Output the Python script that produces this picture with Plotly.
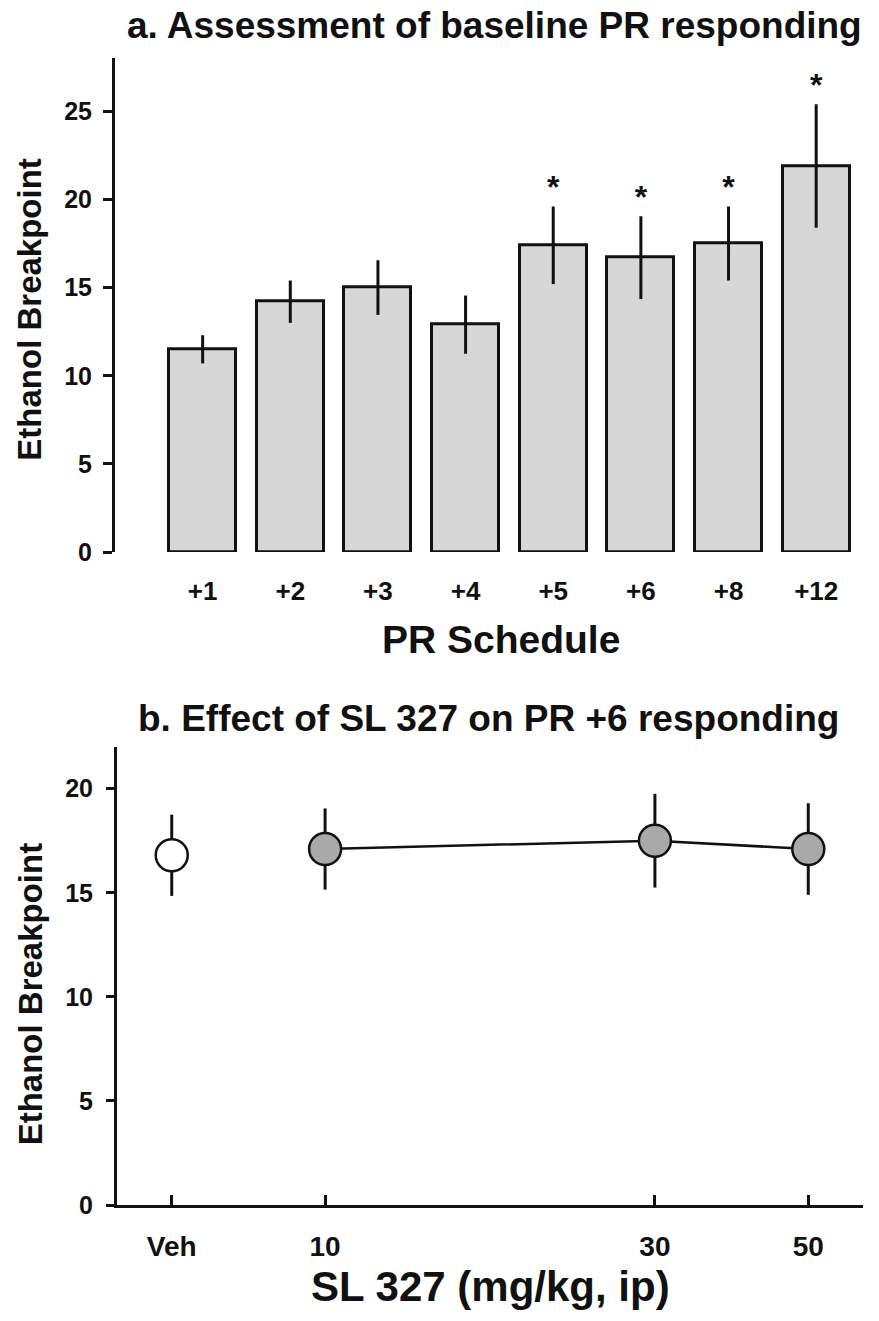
import plotly.graph_objects as go

# ---------------- data ----------------
# Panel a: baseline PR responding
schedules = ["+1", "+2", "+3", "+4", "+5", "+6", "+8", "+12"]
breakpoint_mean = [11.5, 14.2, 15.0, 12.9, 17.4, 16.7, 17.5, 21.9]
breakpoint_sem = [0.8, 1.2, 1.55, 1.65, 2.2, 2.35, 2.1, 3.5]
significant = [False, False, False, False, True, True, True, True]

# Panel b: SL 327 on PR +6
veh_label = ["Veh"]
veh_dose = [6]          # plotting position of vehicle on the dose axis
veh_mean = [16.8]
veh_sem = [1.95]
sl_doses = [10, 30, 50]
sl_mean = [17.1, 17.5, 17.1]
sl_sem = [1.95, 2.25, 2.2]
b_tickvals = veh_dose + sl_doses
b_ticktext = veh_label + [str(d) for d in sl_doses]

W, H = 879, 1321
FONT = "Liberation Sans, Arial, Helvetica, sans-serif"

fig = go.Figure()

# ---- panel a bars ----
fig.add_trace(go.Bar(
    x=schedules, y=breakpoint_mean, width=0.765,
    marker=dict(color="#d7d7d7", line=dict(color="#111111", width=3)),
    error_y=dict(type="data", array=breakpoint_sem, visible=True,
                 color="#111111", thickness=3, width=0),
    xaxis="x", yaxis="y", showlegend=False, hoverinfo="skip"))

star_x = [s for s, f in zip(schedules, significant) if f]
star_y = [m + e for m, e, f in zip(breakpoint_mean, breakpoint_sem, significant) if f]
fig.add_trace(go.Scatter(
    x=star_x, y=star_y, mode="text", text=["*"] * len(star_x),
    textposition="top center",
    textfont=dict(family=FONT, size=32, color="#111111", weight="bold"),
    xaxis="x", yaxis="y", showlegend=False, hoverinfo="skip", cliponaxis=False))

# ---- panel b ----
fig.add_trace(go.Scatter(
    x=sl_doses, y=sl_mean, mode="lines+markers",
    line=dict(color="#111111", width=2.5),
    marker=dict(size=32, color="#a9a9a9", line=dict(color="#111111", width=2.5)),
    error_y=dict(type="data", array=sl_sem, visible=True,
                 color="#111111", thickness=3, width=0),
    xaxis="x2", yaxis="y2", showlegend=False, hoverinfo="skip", cliponaxis=False))
fig.add_trace(go.Scatter(
    x=veh_dose, y=veh_mean, mode="markers",
    marker=dict(size=32, color="#ffffff", line=dict(color="#111111", width=2.5)),
    error_y=dict(type="data", array=veh_sem, visible=True,
                 color="#111111", thickness=3, width=0),
    xaxis="x2", yaxis="y2", showlegend=False, hoverinfo="skip", cliponaxis=False))

def px_x(p):
    return p / W

def px_y(p):
    return 1 - p / H

tickfont_y = dict(family=FONT, size=25, color="#111111", weight="bold")
tickfont_xa = dict(family=FONT, size=26, color="#111111", weight="bold")
tickfont_xb = dict(family=FONT, size=28, color="#111111", weight="bold")

fig.update_layout(
    width=W, height=H,
    margin=dict(l=0, r=0, t=0, b=0),
    paper_bgcolor="white", plot_bgcolor="white",
    font=dict(family=FONT, color="#111111"),
    bargap=0,
    xaxis=dict(domain=[px_x(115), px_x(860)], anchor="y",
               type="category", range=[-1.0, 7.5],
               showline=False, showgrid=False, zeroline=False,
               ticks="outside", ticklen=16, tickcolor="rgba(0,0,0,0)",
               tickfont=tickfont_xa, fixedrange=True),
    yaxis=dict(domain=[px_y(558), px_y(59)], anchor="x",
               range=[0, 28], tickvals=[0, 5, 10, 15, 20, 25],
               showline=True, linecolor="#111111", linewidth=3,
               ticks="outside", ticklen=9, tickwidth=3, tickcolor="#111111",
               showgrid=False, zeroline=False, tickfont=tickfont_y,
               ticklabelstandoff=6, fixedrange=True),
    xaxis2=dict(domain=[px_x(117), px_x(863)], anchor="y2",
                type="log", range=[0.69897, 1.77815],
                tickvals=b_tickvals, ticktext=b_ticktext,
                showline=True, linecolor="#111111", linewidth=3,
                ticks="inside", ticklen=10, tickwidth=3, tickcolor="#111111",
                showgrid=False, zeroline=False, tickfont=tickfont_xb,
                ticklabelstandoff=14, fixedrange=True),
    yaxis2=dict(domain=[px_y(1218), px_y(755)], anchor="x2",
                range=[0, 22], tickvals=[0, 5, 10, 15, 20],
                showline=True, linecolor="#111111", linewidth=3,
                ticks="outside", ticklen=8, tickwidth=3, tickcolor="#111111",
                showgrid=False, zeroline=False, tickfont=tickfont_y,
                ticklabelstandoff=8, fixedrange=True),
)

def ann(text, x, y, size, angle=0):
    fig.add_annotation(text=text, xref="paper", yref="paper",
                       x=px_x(x), y=px_y(y), xanchor="center", yanchor="middle",
                       showarrow=False, textangle=angle,
                       font=dict(family=FONT, size=size, color="#111111", weight="bold"))

ann("a. Assessment of baseline PR responding", 494, 26, 37)
ann("PR Schedule", 501, 646, 39)
ann("Ethanol Breakpoint", 30, 313, 33, angle=-90)
ann("b. Effect of SL 327 on PR +6 responding", 488, 726, 37)
ann("SL 327 (mg/kg, ip)", 491, 1300, 42)
ann("Ethanol Breakpoint", 30, 1005, 33, angle=-90)

fig.write_html("out.html")
